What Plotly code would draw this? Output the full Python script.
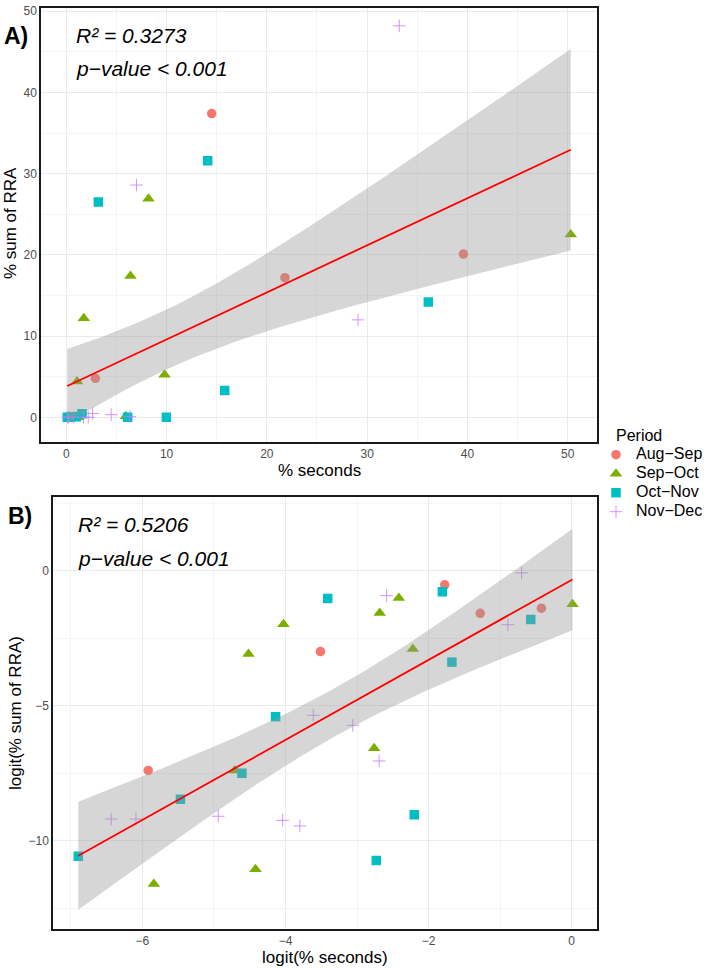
import numpy as np
import plotly.graph_objects as go

# ---------------- data (percentages) ----------------
periods = ["Aug−Sep", "Sep−Oct", "Oct−Nov", "Nov−Dec"]

aug_sep_seconds = [14.5, 21.8, 2.9, 39.6, 0.268]
aug_sep_rra = [37.4, 17.2, 4.8, 20.1, 0.0617]

sep_oct_seconds = [8.2, 6.4, 1.75, 1.08, 9.8, 50.3, 0.893, 0.29, 1.19, 5.95]
sep_oct_rra = [26.9, 17.4, 12.2, 4.4, 5.25, 22.5, 0.0617, 0.000917, 0.00159, 0.140]

oct_nov_seconds = [3.2, 1.57, 14.1, 36.1, 15.8, 0.986, 0.42, 0.101, 9.98, 6.12]
oct_nov_rra = [26.5, 0.45, 31.6, 14.2, 3.3, 0.0558, 0.0212, 0.00257, 0.0119, 0.00219]

nov_dec_seconds = [33.2, 7.0, 29.1, 2.63, 4.48, 6.35, 0.16, 0.226, 0.71, 1.73, 2.19]
nov_dec_rra = [48.2, 28.6, 12.0, 0.473, 0.327, 0.0876, 0.0102, 0.0102, 0.0113, 0.0097, 0.0079]

stats_text_A = ["R² = 0.3273", "p−value < 0.001"]
stats_text_B = ["R² = 0.5206", "p−value < 0.001"]

series_seconds = [aug_sep_seconds, sep_oct_seconds, oct_nov_seconds, nov_dec_seconds]
series_rra = [aug_sep_rra, sep_oct_rra, oct_nov_rra, nov_dec_rra]

# ---------------- styling ----------------
W, H = 709, 968
colors = ["#F8766D", "#7CAE00", "#00BFC4", "#C77CFF"]
symbols = ["circle", "triangle-up", "square", "cross-thin"]
sizes = [9.5, 11, 9.5, 9]
FONT = "Liberation Sans, Arial, sans-serif"


def px(x):
    return x / W


def py(y):
    return 1 - y / H


def logit_pct(v):
    p = np.asarray(v, dtype=float) / 100.0
    return np.log(p / (1 - p))


def lm_band(x, y, n_grid=100, tval=2.0322):
    x = np.asarray(x, float)
    y = np.asarray(y, float)
    n = len(x)
    xm, ym = x.mean(), y.mean()
    sxx = ((x - xm) ** 2).sum()
    b = ((x - xm) * (y - ym)).sum() / sxx
    a = ym - b * xm
    resid = y - (a + b * x)
    s = np.sqrt((resid ** 2).sum() / (n - 2))
    xs = np.linspace(x.min(), x.max(), n_grid)
    fit = a + b * xs
    hw = tval * s * np.sqrt(1.0 / n + (xs - xm) ** 2 / sxx)
    return xs, fit, fit - hw, fit + hw


fig = go.Figure()

all_x_A = np.concatenate([np.asarray(s, float) for s in series_seconds])
all_y_A = np.concatenate([np.asarray(s, float) for s in series_rra])
all_x_B = logit_pct(all_x_A)
all_y_B = logit_pct(all_y_A)

for panel, (xa, ya) in enumerate([("x", "y"), ("x2", "y2")]):
    for i, name in enumerate(periods):
        if panel == 0:
            xv, yv = series_seconds[i], series_rra[i]
        else:
            xv, yv = logit_pct(series_seconds[i]), logit_pct(series_rra[i])
        is_cross = symbols[i] == "cross-thin"
        fig.add_trace(go.Scatter(
            x=xv, y=yv, mode="markers", xaxis=xa, yaxis=ya,
            name='<span style="font-size:16px">' + name + "</span>",
            legendgroup=name, showlegend=(panel == 0),
            marker=dict(symbol=symbols[i], size=sizes[i], color=colors[i],
                        line=dict(width=1.0 if is_cross else 0,
                                  color="rgba(199,124,255,0.8)" if is_cross else colors[i])),
        ))
    X = all_x_A if panel == 0 else all_x_B
    Y = all_y_A if panel == 0 else all_y_B
    xs, fit, lo, hi = lm_band(X, Y)
    fig.add_trace(go.Scatter(
        x=np.concatenate([xs, xs[::-1]]), y=np.concatenate([hi, lo[::-1]]),
        xaxis=xa, yaxis=ya, mode="lines", fill="toself",
        fillcolor="rgba(153,153,153,0.4)", line=dict(width=0),
        showlegend=False, hoverinfo="skip"))
    fig.add_trace(go.Scatter(
        x=xs, y=fit, xaxis=xa, yaxis=ya, mode="lines",
        line=dict(color="red", width=1.8), showlegend=False))

axis_common = dict(
    showline=True, mirror=True, linecolor="#1a1a1a", linewidth=1.5,
    showgrid=True, gridcolor="#EBEBEB", gridwidth=1, zeroline=False,
    ticks="", tickfont=dict(family=FONT, size=12, color="#4D4D4D"),
)

fig.update_layout(
    width=W, height=H, margin=dict(l=0, r=0, t=0, b=0),
    paper_bgcolor="white", plot_bgcolor="white",
    font=dict(family=FONT, color="black"),
    xaxis=dict(domain=[px(41), px(597)], range=[-2.52, 52.92], dtick=10, tick0=0,
               anchor="y",
               minor=dict(dtick=5, tick0=0, showgrid=True, gridcolor="#F4F4F4", gridwidth=0.7),
               **axis_common),
    yaxis=dict(domain=[py(440), py(4)], range=[-3.06, 50.4], dtick=10, tick0=0,
               anchor="x",
               minor=dict(dtick=5, tick0=0, showgrid=True, gridcolor="#F4F4F4", gridwidth=0.7),
               **axis_common),
    xaxis2=dict(domain=[px(53), px(597)], range=[-7.25, 0.355], dtick=2, tick0=0,
                anchor="y2",
                minor=dict(dtick=1, tick0=0, showgrid=True, gridcolor="#F4F4F4", gridwidth=0.7),
                **axis_common),
    yaxis2=dict(domain=[py(929), py(495)], range=[-13.27, 2.74], dtick=5, tick0=0,
                anchor="x2",
                minor=dict(dtick=2.5, tick0=0, showgrid=True, gridcolor="#F4F4F4", gridwidth=0.7),
                **axis_common),
    legend=dict(x=px(596), y=py(438), xanchor="left", yanchor="top",
                bgcolor="rgba(0,0,0,0)", font=dict(family=FONT, size=10, color="black"),
                itemwidth=30, tracegroupgap=0),
    showlegend=True,
)

ann = []


def add_text(text, x, y, size, xanchor="left", bold=False, italic=False, angle=0, color="black"):
    t = text
    if bold:
        t = "<b>" + t + "</b>"
    if italic:
        t = "<i>" + t + "</i>"
    ann.append(dict(text=t, x=px(x), y=py(y), xref="paper", yref="paper",
                    xanchor=xanchor, yanchor="middle", showarrow=False, textangle=angle,
                    font=dict(family=FONT, size=size, color=color)))


add_text("A)", 2, 32, 23, bold=True)
add_text(stats_text_A[0], 74, 32, 21, italic=True)
add_text(stats_text_A[1], 74, 65, 21, italic=True)
add_text("B)", 6, 514, 23, bold=True)
add_text(stats_text_B[0], 76, 523, 21, italic=True)
add_text(stats_text_B[1], 76, 557, 21, italic=True)
add_text("% sum of RRA", 10, 220, 17, xanchor="center", angle=-90)
add_text("% seconds", 319, 468, 17, xanchor="center")
add_text("logit(% sum of RRA)", 15, 712, 17, xanchor="center", angle=-90)
add_text("logit(% seconds)", 325, 957, 17, xanchor="center")
add_text("Period", 614, 433, 16)

fig.update_layout(annotations=ann)
fig.write_html("out.html")
